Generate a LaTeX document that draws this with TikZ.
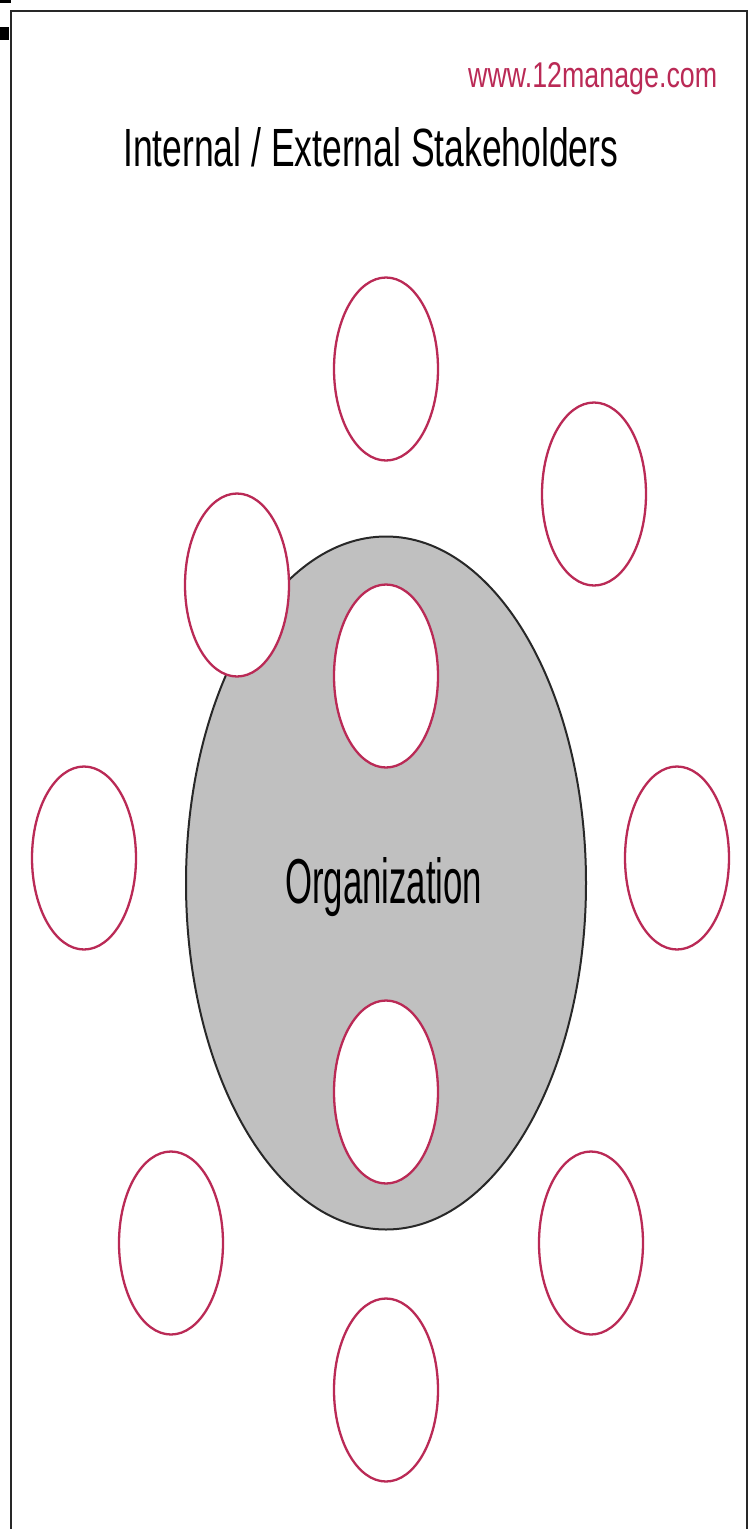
\documentclass[tikz,border=0pt]{standalone}
\usepackage{fontspec}
\setmainfont{Liberation Sans}
\usetikzlibrary{shapes.geometric}
\definecolor{crim}{RGB}{186,42,86}
\definecolor{orggray}{RGB}{192,192,192}
\definecolor{framegray}{RGB}{40,40,40}
\tikzset{
  stake/.style={ellipse, draw=crim, line width=2.3pt, fill=white, minimum width=104pt, minimum height=183pt, inner sep=0pt},
  org/.style={ellipse, draw=framegray, line width=2pt, fill=orggray, minimum width=400pt, minimum height=693pt, inner sep=0pt},
}
\begin{document}
\begin{tikzpicture}[x=1pt,y=-1pt]
\useasboundingbox (0,0) rectangle (755,1529);
\fill[white] (0,0) rectangle (755,1529);
% frame
\draw[framegray, line width=2.5pt] (11,1545) -- (11,11) -- (747,11) -- (747,1545);
\fill[black] (0,0) rectangle (11,3);
\fill[black] (0,27) rectangle (9,40);
% texts
\node[anchor=base west, inner sep=0pt, text=crim] (url) at (468,87) {\resizebox{249pt}{25pt}{www.12manage.com}};
\node[anchor=base west, inner sep=0pt] (title) at (123,166) {\resizebox{495pt}{39pt}{Internal / External Stakeholders}};
% organization
\node[org] (org) at (386,883) {};
\node[anchor=base west, inner sep=0pt] (orglabel) at (285,903) {\resizebox{197pt}{46pt}{Organization}};
% stakeholders
\node[stake] (top) at (386,369) {};
\node[stake] (ur) at (594,494) {};
\node[stake] (ul) at (237,585) {};
\node[stake] (itop) at (386,676) {};
\node[stake] (left) at (84,858) {};
\node[stake] (right) at (677,858) {};
\node[stake] (ibot) at (386,1092) {};
\node[stake] (ll) at (171,1243) {};
\node[stake] (lr) at (591,1243) {};
\node[stake] (bot) at (386,1390) {};
\end{tikzpicture}
\end{document}
